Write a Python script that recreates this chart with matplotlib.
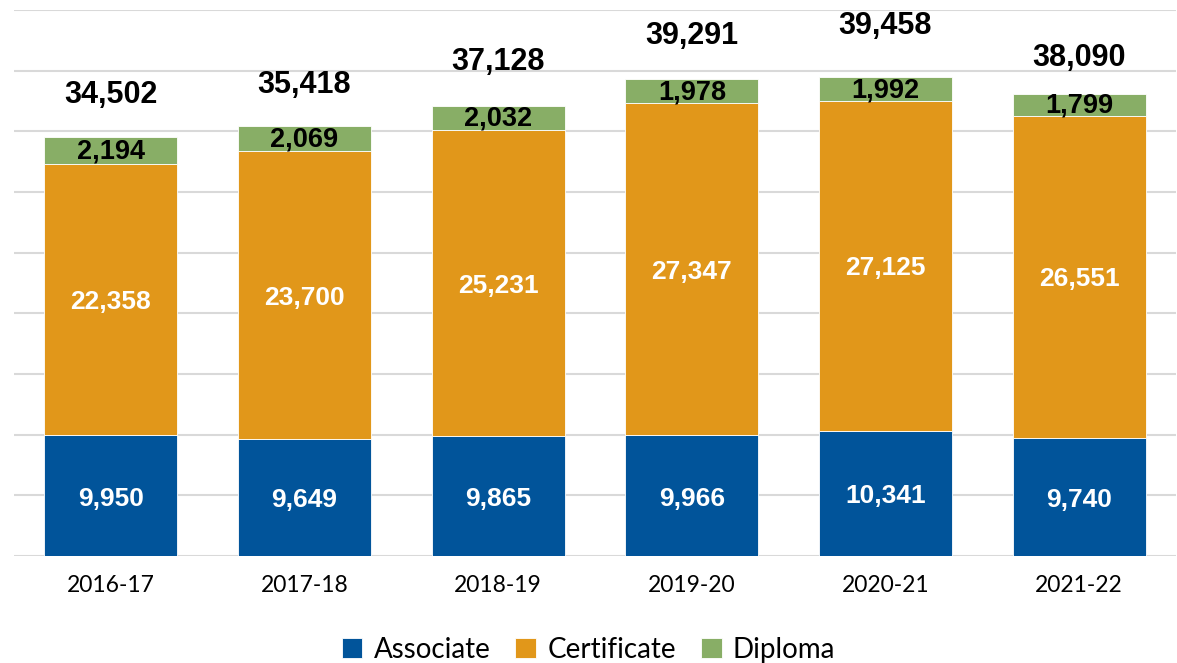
# stacked bar chart of awards by year
import numpy as np
import matplotlib.pyplot as plt

years = ['2016-17', '2017-18', '2018-19', '2019-20', '2020-21', '2021-22']
associate = [9950, 9649, 9865, 9966, 10341, 9740]
certificate = [22358, 23700, 25231, 27347, 27125, 26551]
diploma = [2194, 2069, 2032, 1978, 1992, 1799]
totals = [34502, 35418, 37128, 39291, 39458, 38090]

# where the total labels sit above each bar (data units)
total_offset = [3500, 3400, 3600, 3580, 4240, 2970]

blue = '#01549A'
orange = '#E1971A'
green = '#88AE66'

fig = plt.figure(figsize=(11.77, 6.63), dpi=100)
ax = fig.add_axes([14/1177, 107/663, 1162/1177, 546/663])

ind = np.arange(len(years))
width = 0.687
a = np.array(associate)
c = np.array(certificate)
d = np.array(diploma)

p1 = ax.bar(ind, a, width, color=blue, edgecolor='white', linewidth=0.6, zorder=3)
p2 = ax.bar(ind, c, width, bottom=a, color=orange, edgecolor='white', linewidth=0.6, zorder=3)
p3 = ax.bar(ind, d, width, bottom=a+c, color=green, edgecolor='white', linewidth=0.6, zorder=3)

lab = dict(family='Liberation Sans', fontweight='bold', ha='center', va='center', zorder=4)
for i in ind:
    ax.text(i, a[i]/2 - 250, f'{a[i]:,}', color='white', fontsize=19, **lab)
    ax.text(i, a[i] + c[i]/2 - 200, f'{c[i]:,}', color='white', fontsize=19, **lab)
    ax.text(i, a[i] + c[i] + d[i]/2 - 80, f'{d[i]:,}', color='black', fontsize=19.5, **lab)
    ax.text(i, totals[i] + total_offset[i], f'{totals[i]:,}', color='black', fontsize=22, **lab)

ax.set_xlim(-0.5, len(years) - 0.5)
ax.set_ylim(0, 45000)
ax.set_yticks(np.arange(0, 45001, 5000))
ax.yaxis.grid(True, color='#D9D9D9', linewidth=1.5, zorder=0)
ax.tick_params(axis='y', left=False, labelleft=False)
ax.tick_params(axis='x', length=0, pad=14)
ax.set_xticks(ind)
ax.set_xticklabels(years, family='Lato', fontsize=16.5)
for s in ax.spines.values():
    s.set_visible(False)

fig.legend((p1[0], p2[0], p3[0]), ('Associate', 'Certificate', 'Diploma'),
           loc='center', bbox_to_anchor=(0.5, 0.02), ncol=3, frameon=False,
           prop={'family': 'Lato', 'size': 20}, handlelength=0.75, handleheight=0.75,
           handletextpad=0.4, columnspacing=0.9)

plt.savefig('out.png', dpi=100)
